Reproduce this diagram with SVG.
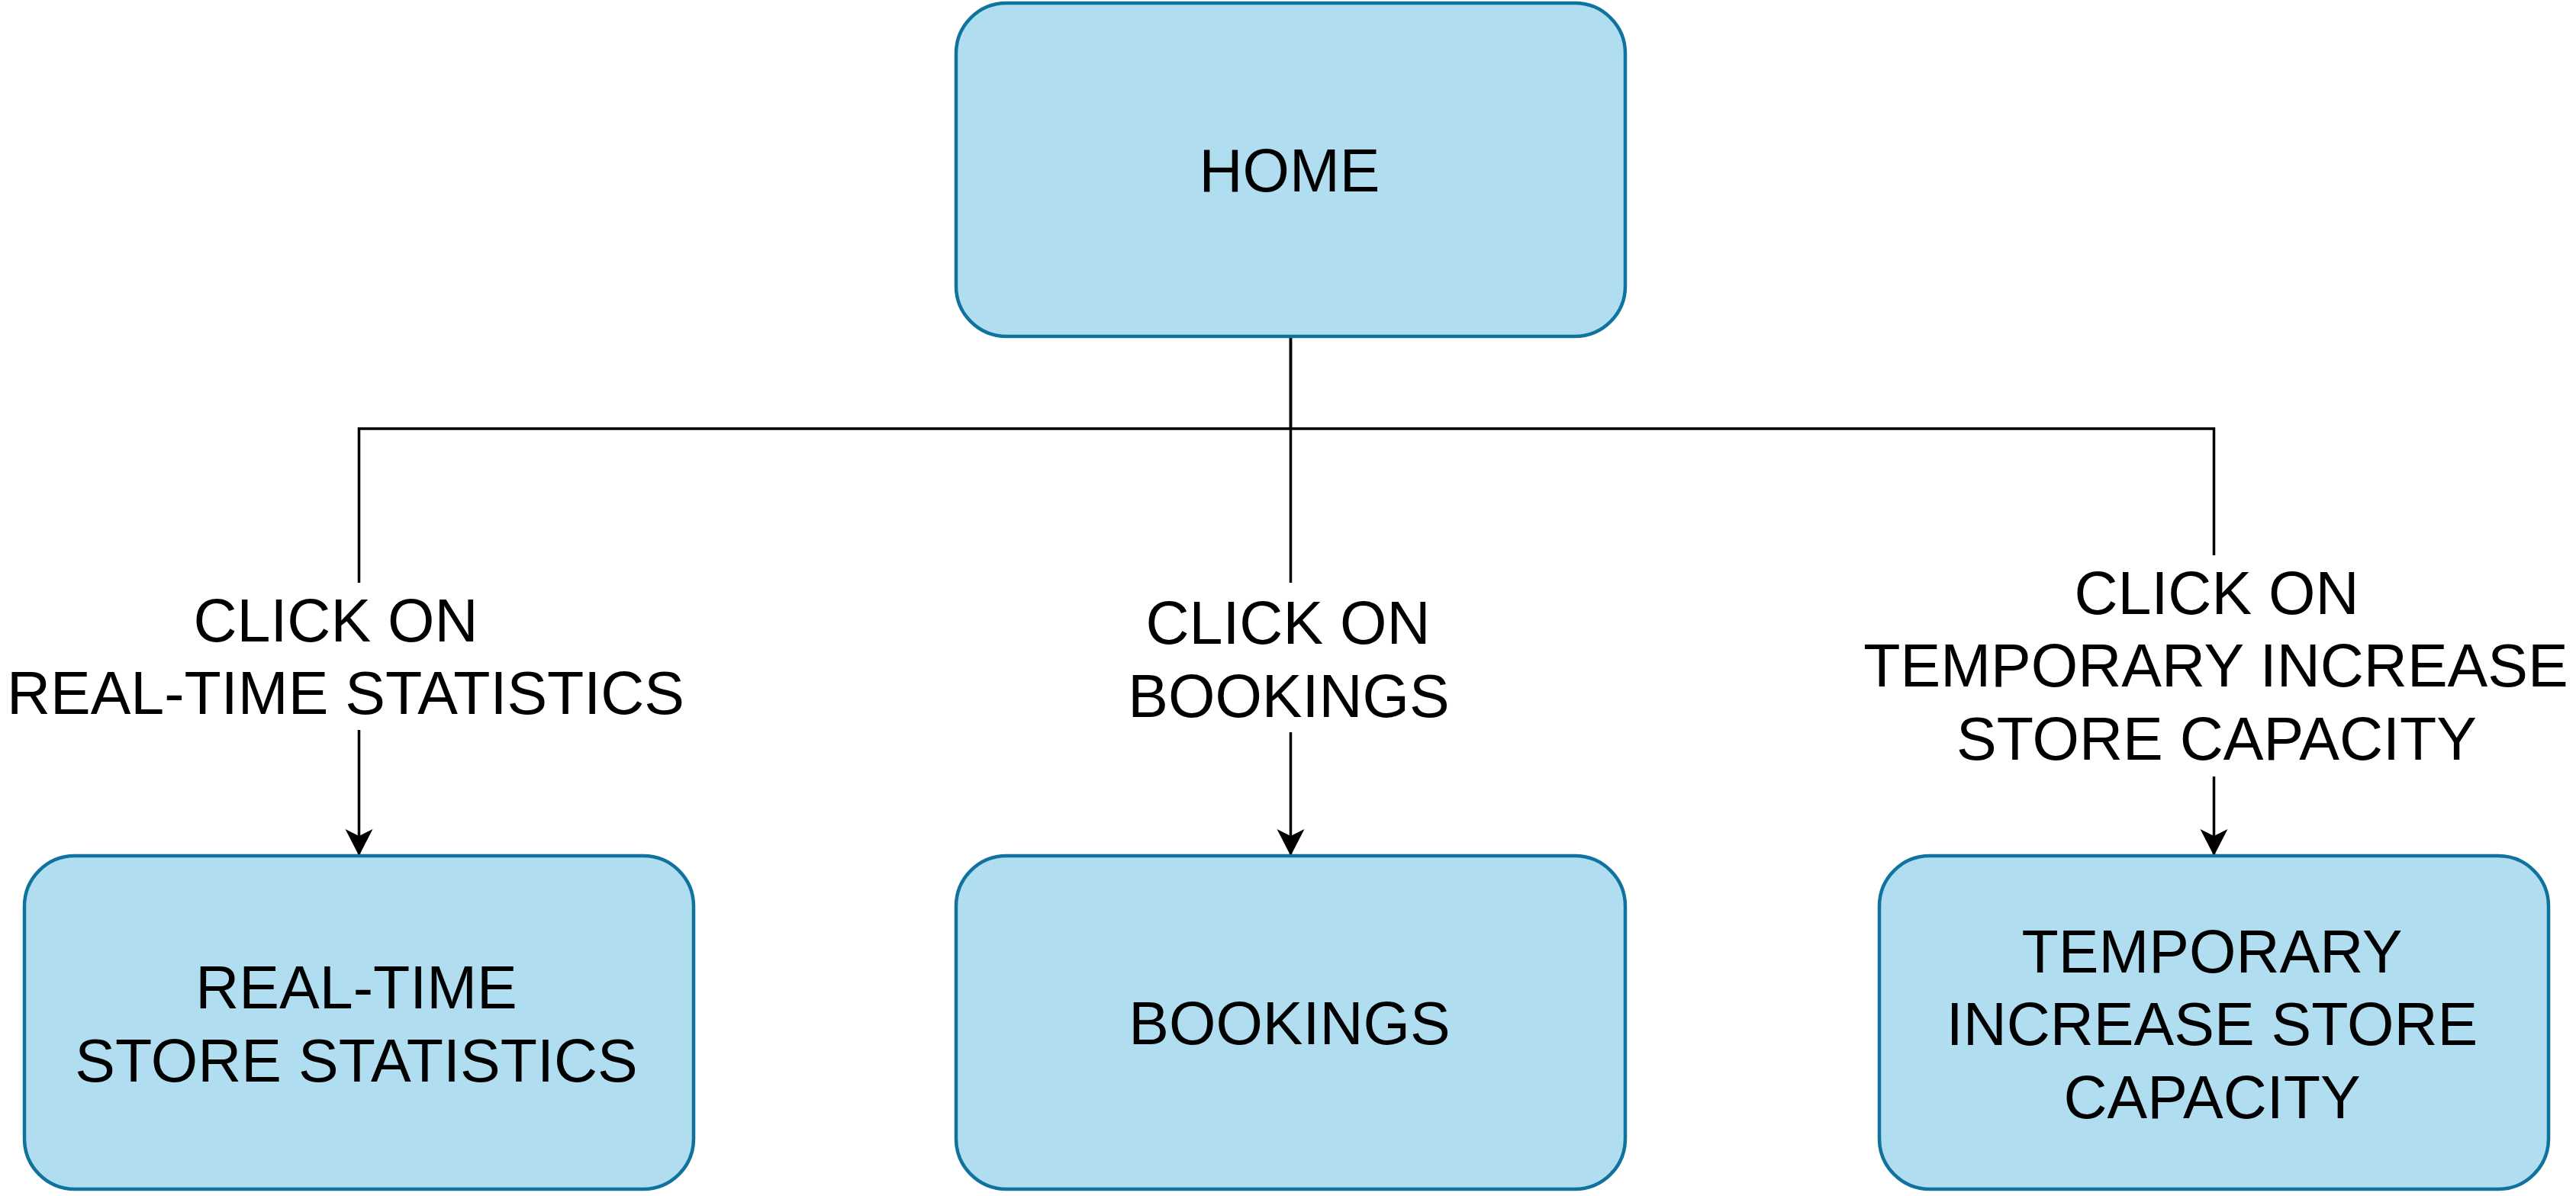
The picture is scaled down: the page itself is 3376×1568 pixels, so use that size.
<svg xmlns="http://www.w3.org/2000/svg" width="3376" height="1568" viewBox="0 0 3376 1568">
<style>
.box{fill:#b1ddf0;stroke:#10739e;stroke-width:4.5}
.lbl{font-family:"Liberation Sans",Arial,sans-serif;font-size:79px;fill:#000;text-anchor:middle}
.edge{fill:none;stroke:#000;stroke-width:3.5}
.bg{fill:#fff;stroke:none}
</style>
<defs>
<marker id="arr" markerUnits="userSpaceOnUse" markerWidth="40" markerHeight="40" viewBox="0 0 40 40" refX="35" refY="20" orient="auto">
<path d="M35,20 L0,2 L9,20 L0,38 Z" fill="#000"/>
</marker>
</defs>
<rect width="3376" height="1568" fill="#fff"/>
<g id="connectors">
<path class="edge" d="M1691.5,441 V562 H470.5 V1122" marker-end="url(#arr)"/>
<path class="edge" d="M1691.5,441 V1122" marker-end="url(#arr)"/>
<path class="edge" d="M1691.5,562 H2901.5 V1122" marker-end="url(#arr)"/>
<g id="label-left">
<rect class="bg" x="2" y="764" width="900" height="193"/>
<text class="lbl" x="440" y="841">CLICK ON</text>
<text class="lbl" x="453" y="936">REAL-TIME STATISTICS</text>
</g>
<g id="label-mid">
<rect class="bg" x="1476" y="764" width="430" height="196"/>
<text class="lbl" x="1688" y="844">CLICK ON</text>
<text class="lbl" x="1689" y="940">BOOKINGS</text>
</g>
<g id="label-right">
<rect class="bg" x="2436" y="728" width="938" height="290"/>
<text class="lbl" x="2905" y="805">CLICK ON</text>
<text class="lbl" x="2904" y="900">TEMPORARY INCREASE</text>
<text class="lbl" x="2905" y="996">STORE CAPACITY</text>
</g>
</g>
<g id="home">
<rect class="box" x="1253" y="4" width="877" height="437" rx="66" ry="66"/>
<text class="lbl" x="1690" y="251">HOME</text>
</g>
<g id="realtime">
<rect class="box" x="32" y="1122" width="877" height="437" rx="66" ry="66"/>
<text class="lbl" x="467" y="1322">REAL-TIME</text>
<text class="lbl" x="467" y="1418">STORE STATISTICS</text>
</g>
<g id="bookings">
<rect class="box" x="1253" y="1122" width="877" height="437" rx="66" ry="66"/>
<text class="lbl" x="1690" y="1369">BOOKINGS</text>
</g>
<g id="temporary">
<rect class="box" x="2463" y="1122" width="877" height="437" rx="66" ry="66"/>
<text class="lbl" x="2899" y="1275">TEMPORARY</text>
<text class="lbl" x="2899" y="1370">INCREASE STORE</text>
<text class="lbl" x="2899" y="1466">CAPACITY</text>
</g>
</svg>
